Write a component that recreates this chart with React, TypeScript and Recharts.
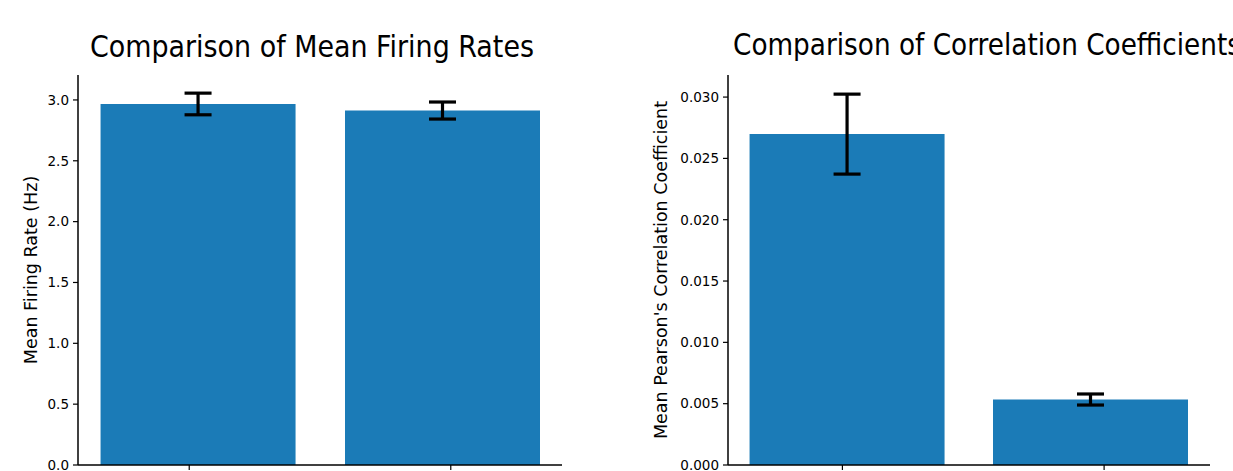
import React from 'react';
import { BarChart, Bar, XAxis, YAxis, ErrorBar } from 'recharts';

// bar positions (matplotlib x) and the values
const barPos = [0, 1];
const rateMeans = [2.967, 2.913];
const rateErrs = [0.089, 0.07];
const corrMeans = [0.02698, 0.00534];
const corrErrs = [0.00326, 0.00045];

const rateTicks = [0, 0.5, 1.0, 1.5, 2.0, 2.5, 3.0];
const corrTicks = [0, 0.005, 0.01, 0.015, 0.02, 0.025, 0.03];
const rateXTicks = [-0.035, 1.035];
const corrXTicks = [-0.02, 1.055];

const rateData = barPos.map((x, i) => ({ x, mean: rateMeans[i], err: rateErrs[i] }));
const corrData = barPos.map((x, i) => ({ x, mean: corrMeans[i], err: corrErrs[i] }));

const FONT = 'DejaVu Sans';
const BLUE = '#1b7bb7';

const tickStyle = { fill: '#000', fontSize: 13.5, fontFamily: FONT };

const App: React.FC = () => {
  return (
    <div style={{ position: 'absolute', left: 0, top: 0, width: 1233, height: 471, background: '#fff', overflow: 'hidden' }}>
      <div style={{ position: 'absolute', left: 0, top: 0 }}>
        <BarChart width={616} height={471} data={rateData} margin={{ top: 75, right: 54, bottom: 0, left: 0 }}>
          <XAxis
            dataKey="x"
            type="number"
            domain={[-0.49, 1.49]}
            allowDataOverflow
            ticks={rateXTicks}
            tickFormatter={() => ''}
            height={6}
            axisLine={{ stroke: '#000', strokeWidth: 1.5 }}
            tickLine={{ stroke: '#000', strokeWidth: 1.2 }}
            tickSize={5}
          />
          <YAxis
            type="number"
            domain={[0, 3.205]}
            ticks={rateTicks}
            interval={0}
            tickFormatter={(v: number) => v.toFixed(1)}
            width={78}
            axisLine={{ stroke: '#000', strokeWidth: 1.5 }}
            tickLine={{ stroke: '#000', strokeWidth: 1.2 }}
            tickSize={5}
            tickMargin={4}
            tick={tickStyle}
          />
          <Bar dataKey="mean" fill={BLUE} barSize={195} isAnimationActive={false}>
            <ErrorBar dataKey="err" width={13.5} strokeWidth={3.2} stroke="#000" direction="y" />
          </Bar>
        </BarChart>
      </div>
      <div style={{ position: 'absolute', left: 616, top: 0 }}>
        <BarChart width={617} height={471} data={corrData} margin={{ top: 75, right: 23, bottom: 0, left: 0 }}>
          <XAxis
            dataKey="x"
            type="number"
            domain={[-0.49, 1.49]}
            allowDataOverflow
            ticks={corrXTicks}
            tickFormatter={() => ''}
            height={6}
            axisLine={{ stroke: '#000', strokeWidth: 1.5 }}
            tickLine={{ stroke: '#000', strokeWidth: 1.2 }}
            tickSize={5}
          />
          <YAxis
            type="number"
            domain={[0, 0.0318]}
            ticks={corrTicks}
            interval={0}
            tickFormatter={(v: number) => v.toFixed(3)}
            width={112}
            axisLine={{ stroke: '#000', strokeWidth: 1.5 }}
            tickLine={{ stroke: '#000', strokeWidth: 1.2 }}
            tickSize={5}
            tickMargin={4}
            tick={tickStyle}
          />
          <Bar dataKey="mean" fill={BLUE} barSize={195} isAnimationActive={false}>
            <ErrorBar dataKey="err" width={13.5} strokeWidth={3.2} stroke="#000" direction="y" />
          </Bar>
        </BarChart>
      </div>
      {/* titles and axis labels */}
      <svg width={1233} height={471} style={{ position: 'absolute', left: 0, top: 0, pointerEvents: 'none' }}>
        <text x={90} y={57} fontFamily={FONT} fontSize={30} fill="#000" textLength={444} lengthAdjust="spacingAndGlyphs">
          Comparison of Mean Firing Rates
        </text>
        <text x={733} y={55} fontFamily={FONT} fontSize={30} fill="#000" textLength={508} lengthAdjust="spacingAndGlyphs">
          Comparison of Correlation Coefficients
        </text>
        <text transform="translate(37,270) rotate(-90)" textAnchor="middle" fontFamily={FONT} fontSize={17.5} fill="#000">
          Mean Firing Rate (Hz)
        </text>
        <text transform="translate(667,270) rotate(-90)" textAnchor="middle" fontFamily={FONT} fontSize={17.5} fill="#000">
          Mean Pearson's Correlation Coefficient
        </text>
      </svg>
    </div>
  );
};

export default App;
